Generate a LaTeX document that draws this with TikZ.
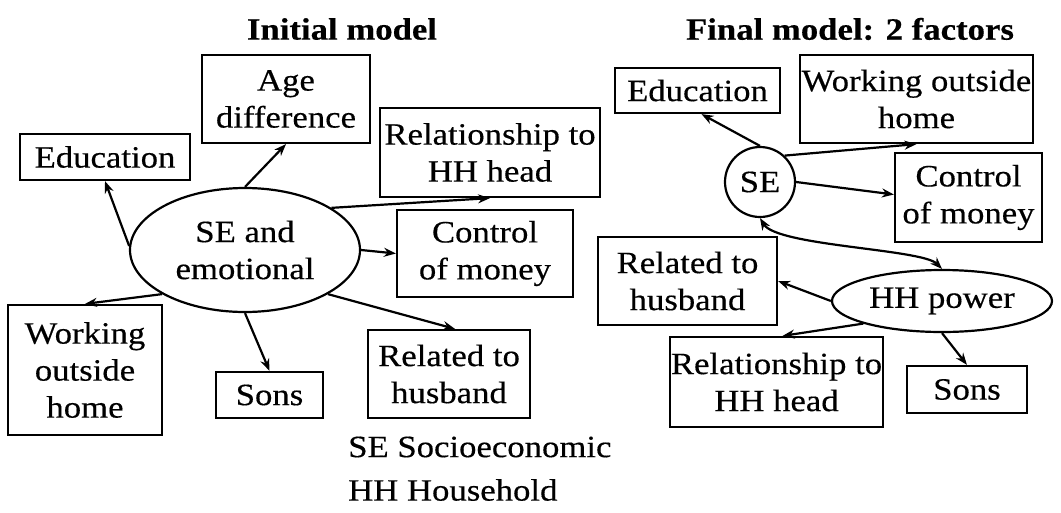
\documentclass[tikz,border=0pt]{standalone}
\usepackage{fontspec}
\setmainfont[FakeStretch=1.12,FakeBold=0.4]{Liberation Serif}
\usetikzlibrary{arrows.meta,shapes.geometric}
\tikzset{
  box/.style={draw,line width=2.2pt,align=center,inner sep=0pt,font=\fontsize{31}{37}\selectfont},
  oval/.style={draw,ellipse,line width=2.2pt,align=center,inner sep=0pt,font=\fontsize{31}{37}\selectfont},
  arr/.style={line width=2.2pt,-{Stealth[length=12pt,width=9pt]}},
  darr/.style={line width=2.2pt,{Stealth[length=12pt,width=9pt]}-{Stealth[length=12pt,width=9pt]}},
  ttl/.style={font=\fontsize{31}{35}\selectfont\bfseries},
  legend/.style={anchor=west,inner sep=0pt,font=\fontsize{31}{37}\selectfont}
}
\begin{document}
\begin{tikzpicture}[x=1pt,y=-1pt]
\useasboundingbox (0,0) rectangle (1061,512);
% titles
\node[ttl] (t1) at (342,29) {Initial model};
\node[ttl] (t2) at (850,29) {Final model: 2 factors};
% left model
\node[oval,minimum width=230pt,minimum height=124pt] (emo) at (245,250) {SE and\\emotional};
\node[box,minimum width=168pt,minimum height=88pt] (age) at (286,99) {Age\\difference};
\node[box,minimum width=170pt,minimum height=46pt] (eduL) at (105,157) {Education};
\node[box,minimum width=220pt,minimum height=89pt] (relL) at (490,152.5) {Relationship to\\HH head};
\node[box,minimum width=176pt,minimum height=87pt] (ctrlL) at (485,253.5) {Control\\of money};
\node[box,minimum width=154pt,minimum height=130pt] (workL) at (85,370) {Working\\outside\\home};
\node[box,minimum width=107pt,minimum height=46pt] (sonsL) at (269.5,395) {Sons};
\node[box,minimum width=162pt,minimum height=88pt] (husbL) at (449,374) {Related to\\husband};
\draw[arr] (emo.178) -- (eduL.south);
\draw[arr] (emo.north) -- (age.south);
\draw[arr] (emo.26) -- (relL.south);
\draw[arr] (emo.east) -- (ctrlL.west);
\draw[arr] (emo.208) -- (workL.north);
\draw[arr] (emo.south) -- (sonsL.north);
\draw[arr] (emo.332) -- ([xshift=6pt]husbL.north);
% legend
\node[legend] (l1) at (348,447) {SE Socioeconomic};
\node[legend] (l2) at (348,490) {HH Household};
% right model
\node[oval,circle,minimum size=70pt] (se) at (760,182) {SE};
\node[box,minimum width=165pt,minimum height=45pt] (eduR) at (697.5,90.5) {Education};
\node[box,minimum width=233pt,minimum height=88pt] (workR) at (916.5,99) {Working outside\\home};
\node[box,minimum width=147pt,minimum height=89pt] (ctrlR) at (968.5,197.5) {Control\\of money};
\node[box,minimum width=179pt,minimum height=88pt] (husbR) at (687.5,281) {Related to\\husband};
\node[oval,minimum width=220pt,minimum height=62pt] (hhp) at (942,301) {HH power};
\node[box,minimum width=213pt,minimum height=90pt] (relR) at (776.5,382) {Relationship to\\HH head};
\node[box,minimum width=120pt,minimum height=47pt] (sonsR) at (967,389.5) {Sons};
\draw[arr] (se.north) -- ([xshift=4pt]eduR.south);
\draw[arr] (se.47) -- (workR.south);
\draw[arr] (se.east) -- ([yshift=3pt]ctrlR.west);
\draw[darr] (se.south) .. controls +(17,28) and +(-20,-20) .. (hhp.north);
\draw[arr] (hhp.west) -- (husbR.east);
\draw[arr] (hhp.196) -- ([xshift=6pt]relR.north);
\draw[arr] (hhp.south) -- (sonsR.north);
\end{tikzpicture}
\end{document}
